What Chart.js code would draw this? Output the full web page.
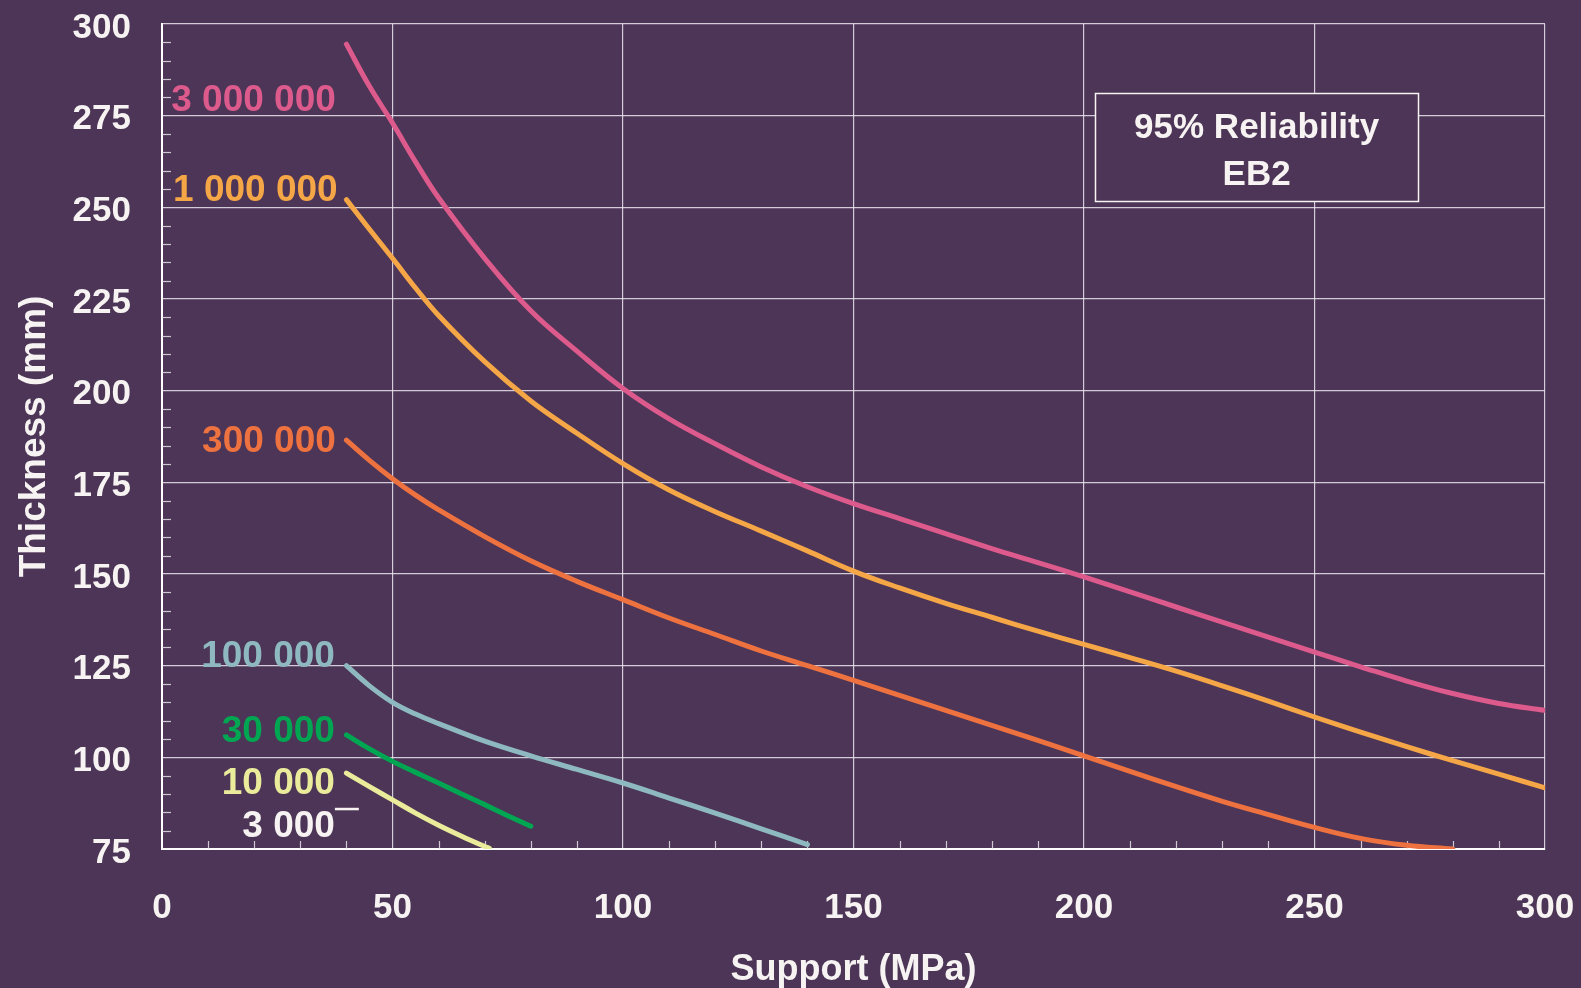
<!DOCTYPE html>
<html>
<head>
<meta charset="utf-8">
<script src="https://cdn.jsdelivr.net/npm/chart.js@4/dist/chart.umd.min.js"></script>
<style>
  html, body { margin: 0; padding: 0; background: #4c3556; }
  canvas { display: block; }
</style>
</head>
<body>
<canvas id="chart" width="1581" height="988"></canvas>
<script>
// curves: support (MPa) vs thickness (mm), one per load repetition count
const support3M = [40, 45, 50, 55, 60, 70, 80, 90, 100, 110, 120, 130, 140, 150, 160, 170, 180, 190, 200, 210, 220, 230, 240, 250, 260, 270, 280, 290, 300];
const thick3M = [294.5, 283, 273, 262.4, 252.6, 236.1, 221.8, 210.8, 200.6, 192.3, 185.5, 179.2, 173.8, 169.2, 165.1, 161, 156.9, 153.1, 149.2, 145.1, 141, 136.9, 132.8, 128.7, 124.7, 120.8, 117.4, 114.7, 112.8];

const support1M = [40, 45, 50, 55, 60, 70, 80, 90, 100, 110, 120, 130, 140, 150, 160, 170, 180, 190, 200, 210, 220, 230, 240, 250, 260, 270, 280, 290, 300];
const thick1M = [252.1, 244, 236.1, 228, 220.5, 207.9, 197.2, 188.4, 180.1, 172.9, 167, 161.7, 156.3, 150.8, 146.2, 142, 138.2, 134.4, 130.8, 127.2, 123.5, 119.5, 115.3, 111, 106.9, 102.9, 99.1, 95.4, 91.7];

const support300k = [40, 45, 50, 55, 60, 70, 80, 90, 100, 110, 120, 130, 140, 150, 160, 170, 180, 190, 200, 210, 220, 230, 240, 250, 260, 270, 280];
const thick300k = [186.5, 181, 176, 171.5, 167.5, 160.2, 153.6, 148, 143, 138, 133.5, 129, 125, 121, 116.9, 112.8, 108.7, 104.6, 100.4, 96.2, 92, 88, 84.4, 80.9, 77.9, 76, 75];

const support100k = [40, 45, 50, 55, 60, 70, 80, 90, 100, 110, 120, 130, 140];
const thick100k = [125, 119.5, 115, 111.8, 109.2, 104.4, 100.4, 96.7, 93, 88.9, 84.8, 80.5, 76.2];

const support30k = [40, 45, 50, 55, 60, 65, 70, 75, 80];
const thick30k = [106.1, 102.3, 98.9, 95.9, 93, 90, 87.1, 84.1, 81.2];

const support10k = [40, 45, 50, 55, 60, 65, 70, 71];
const thick10k = [95.7, 92, 88.4, 84.8, 81.5, 78.5, 75.7, 75.2];

const seriesNames = ["3 000 000", "1 000 000", "300 000", "100 000", "30 000", "10 000", "3 000"];
const xTicks = [0, 50, 100, 150, 200, 250, 300];
const yTicks = [75, 100, 125, 150, 175, 200, 225, 250, 275, 300];

const BG = "#4c3556";
const TEXT = "#f7f3f3";
const FONT = "'Liberation Sans', Arial, sans-serif";

// label anchors (in axis units) and colours for the curve names
const curveLabels = [
  { text: seriesNames[0], x: 37.7, y: 279.1, color: "#dc5a8c" },
  { text: seriesNames[1], x: 38.1, y: 254.4, color: "#f5a646" },
  { text: seriesNames[2], x: 37.7, y: 186, color: "#ee7240" },
  { text: seriesNames[3], x: 37.5, y: 127.5, color: "#8fb9c0" },
  { text: seriesNames[4], x: 37.5, y: 107.1, color: "#00a651" },
  { text: seriesNames[5], x: 37.5, y: 92.8, color: "#ebeb9c" },
  { text: seriesNames[6], x: 37.5, y: 81, color: TEXT }
];

function pts(xs, ys) {
  return xs.map((x, i) => ({ x: x, y: ys[i] }));
}

function curve(label, xs, ys, color) {
  return {
    label: label,
    data: pts(xs, ys),
    borderColor: color,
    borderWidth: 5,
    pointRadius: 0,
    fill: false,
    tension: 0.4,
    borderCapStyle: "round"
  };
}

const bgPlugin = {
  id: "bg",
  beforeDraw(chart) {
    const c = chart.ctx;
    c.save();
    c.fillStyle = BG;
    c.fillRect(0, 0, chart.width, chart.height);
    c.restore();
  }
};

const extrasPlugin = {
  id: "extras",
  beforeDatasetsDraw(chart) {
    const c = chart.ctx;
    const xs = chart.scales.x, ys = chart.scales.y;
    const a = chart.chartArea;
    c.save();
    c.strokeStyle = "rgba(230,225,232,0.85)";
    c.lineWidth = 1.2;
    // minor ticks on the y axis every 5
    for (let v = 80; v < 300; v += 5) {
      if (v % 25 === 0) continue;
      const py = Math.round(ys.getPixelForValue(v)) + 0.5;
      c.beginPath(); c.moveTo(a.left, py); c.lineTo(a.left + 9, py); c.stroke();
    }
    // minor ticks on the x axis every 10
    for (let v = 10; v < 300; v += 10) {
      if (v % 50 === 0) continue;
      const px = Math.round(xs.getPixelForValue(v)) + 0.5;
      c.beginPath(); c.moveTo(px, a.bottom); c.lineTo(px, a.bottom - 8); c.stroke();
    }
    c.restore();
  },
  afterDatasetsDraw(chart) {
    const c = chart.ctx;
    const xs = chart.scales.x, ys = chart.scales.y;
    c.save();
    c.font = "bold 37px " + FONT;
    c.textAlign = "right";
    c.textBaseline = "middle";
    curveLabels.forEach(l => {
      c.fillStyle = l.color;
      c.fillText(l.text, xs.getPixelForValue(l.x), ys.getPixelForValue(l.y));
    });
    // short leader after "3 000"
    c.strokeStyle = TEXT;
    c.lineWidth = 2.5;
    c.beginPath();
    c.moveTo(xs.getPixelForValue(37.5), ys.getPixelForValue(85.9));
    c.lineTo(xs.getPixelForValue(42.7), ys.getPixelForValue(85.9));
    c.stroke();

    // reliability box
    const bx0 = xs.getPixelForValue(202.4), bx1 = xs.getPixelForValue(272.5);
    const by0 = ys.getPixelForValue(281.2), by1 = ys.getPixelForValue(251.7);
    c.fillStyle = BG;
    c.fillRect(bx0, by0, bx1 - bx0, by1 - by0);
    c.strokeStyle = TEXT;
    c.lineWidth = 1.5;
    c.strokeRect(Math.round(bx0) + 0.5, Math.round(by0) + 0.5, Math.round(bx1 - bx0), Math.round(by1 - by0));
    c.fillStyle = TEXT;
    c.font = "bold 35px " + FONT;
    c.textAlign = "center";
    const cx = (bx0 + bx1) / 2;
    c.fillText("95% Reliability", cx, ys.getPixelForValue(271.5));
    c.fillText("EB2", cx, ys.getPixelForValue(258.6));
    c.restore();
  }
};

new Chart(document.getElementById("chart"), {
  type: "line",
  data: {
    datasets: [
      curve(seriesNames[0], support3M, thick3M, "#dc5a8c"),
      curve(seriesNames[1], support1M, thick1M, "#f5a646"),
      curve(seriesNames[2], support300k, thick300k, "#ee7240"),
      curve(seriesNames[3], support100k, thick100k, "#8fb9c0"),
      curve(seriesNames[4], support30k, thick30k, "#00a651"),
      curve(seriesNames[5], support10k, thick10k, "#ebeb9c")
    ]
  },
  options: {
    responsive: false,
    devicePixelRatio: 1,
    animation: false,
    layout: { padding: { top: 24, right: 36, left: 0, bottom: 0 } },
    plugins: { legend: { display: false }, tooltip: { enabled: false } },
    scales: {
      x: {
        type: "linear",
        min: 0, max: 300,
        afterBuildTicks: s => { s.ticks = xTicks.map(v => ({ value: v })); },
        afterFit: s => { s.height = 139; s.paddingLeft = 0; s.paddingRight = 0; s.paddingTop = 0; s.paddingBottom = 0; },
        grid: { color: "rgba(235,230,238,0.85)", lineWidth: 1.2, drawTicks: false },
        border: { color: "#ffffff", width: 2 },
        ticks: { color: TEXT, font: { family: FONT, size: 35, weight: "bold" }, padding: 38, maxRotation: 0 },
        title: { display: true, text: "Support (MPa)", color: TEXT, font: { family: FONT, size: 36, weight: "bold", lineHeight: 1 }, padding: { top: -4, bottom: 0 } }
      },
      y: {
        type: "linear",
        min: 75, max: 300,
        afterBuildTicks: s => { s.ticks = yTicks.map(v => ({ value: v })); },
        afterFit: s => { s.width = 162; s.paddingLeft = 0; s.paddingRight = 0; s.paddingTop = 0; s.paddingBottom = 0; },
        grid: { color: "rgba(235,230,238,0.85)", lineWidth: 1.2, drawTicks: false },
        border: { color: "#ffffff", width: 2 },
        ticks: { color: TEXT, font: { family: FONT, size: 35, weight: "bold" }, padding: 31, labelOffset: 4 },
        title: { display: true, text: "Thickness (mm)", color: TEXT, font: { family: FONT, size: 37, weight: "bold" }, padding: { top: 13, bottom: 0 } }
      }
    }
  },
  plugins: [bgPlugin, extrasPlugin]
});
</script>
</body>
</html>
